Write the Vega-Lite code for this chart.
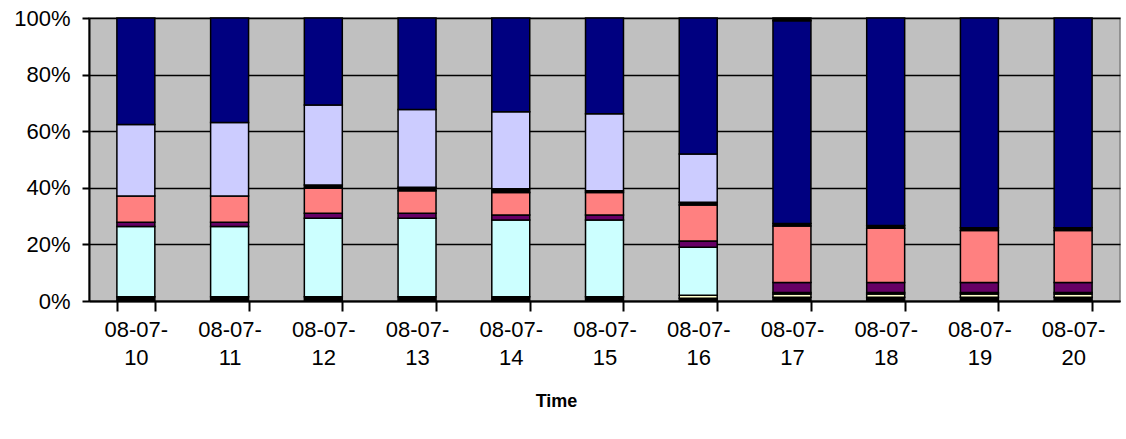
{
  "$schema": "https://vega.github.io/schema/vega-lite/v6.json",
  "width": 1031,
  "height": 283,
  "autosize": {"type": "none"},
  "padding": {"left": 89, "top": 18, "right": 6, "bottom": 138},
  "background": "#ffffff",
  "config": {
    "font": "Liberation Sans",
    "view": {"fill": "#C0C0C0", "stroke": "#808080", "strokeWidth": 1.5}
  },
  "data": {
    "values": [
      {"day": "08-07-10", "series": "A", "k": 1, "share": 1.5},
      {"day": "08-07-10", "series": "C", "k": 3, "share": 24.8},
      {"day": "08-07-10", "series": "D", "k": 4, "share": 1.5},
      {"day": "08-07-10", "series": "E", "k": 5, "share": 9.3},
      {"day": "08-07-10", "series": "G", "k": 7, "share": 25.3},
      {"day": "08-07-10", "series": "H", "k": 8, "share": 37.6},

      {"day": "08-07-11", "series": "A", "k": 1, "share": 1.5},
      {"day": "08-07-11", "series": "C", "k": 3, "share": 24.8},
      {"day": "08-07-11", "series": "D", "k": 4, "share": 1.5},
      {"day": "08-07-11", "series": "E", "k": 5, "share": 9.3},
      {"day": "08-07-11", "series": "G", "k": 7, "share": 26.0},
      {"day": "08-07-11", "series": "H", "k": 8, "share": 36.9},

      {"day": "08-07-12", "series": "A", "k": 1, "share": 1.5},
      {"day": "08-07-12", "series": "C", "k": 3, "share": 27.7},
      {"day": "08-07-12", "series": "D", "k": 4, "share": 1.8},
      {"day": "08-07-12", "series": "E", "k": 5, "share": 8.8},
      {"day": "08-07-12", "series": "F", "k": 6, "share": 1.2},
      {"day": "08-07-12", "series": "G", "k": 7, "share": 28.3},
      {"day": "08-07-12", "series": "H", "k": 8, "share": 30.7},

      {"day": "08-07-13", "series": "A", "k": 1, "share": 1.5},
      {"day": "08-07-13", "series": "C", "k": 3, "share": 27.7},
      {"day": "08-07-13", "series": "D", "k": 4, "share": 1.8},
      {"day": "08-07-13", "series": "E", "k": 5, "share": 8.0},
      {"day": "08-07-13", "series": "F", "k": 6, "share": 1.2},
      {"day": "08-07-13", "series": "G", "k": 7, "share": 27.5},
      {"day": "08-07-13", "series": "H", "k": 8, "share": 32.3},

      {"day": "08-07-14", "series": "A", "k": 1, "share": 1.5},
      {"day": "08-07-14", "series": "C", "k": 3, "share": 27.1},
      {"day": "08-07-14", "series": "D", "k": 4, "share": 1.8},
      {"day": "08-07-14", "series": "E", "k": 5, "share": 7.9},
      {"day": "08-07-14", "series": "F", "k": 6, "share": 1.4},
      {"day": "08-07-14", "series": "G", "k": 7, "share": 27.2},
      {"day": "08-07-14", "series": "H", "k": 8, "share": 33.1},

      {"day": "08-07-15", "series": "A", "k": 1, "share": 1.5},
      {"day": "08-07-15", "series": "C", "k": 3, "share": 27.1},
      {"day": "08-07-15", "series": "D", "k": 4, "share": 1.8},
      {"day": "08-07-15", "series": "E", "k": 5, "share": 7.9},
      {"day": "08-07-15", "series": "F", "k": 6, "share": 0.7},
      {"day": "08-07-15", "series": "G", "k": 7, "share": 27.2},
      {"day": "08-07-15", "series": "H", "k": 8, "share": 33.8},

      {"day": "08-07-16", "series": "A", "k": 1, "share": 1.0},
      {"day": "08-07-16", "series": "B", "k": 2, "share": 1.0},
      {"day": "08-07-16", "series": "C", "k": 3, "share": 17.0},
      {"day": "08-07-16", "series": "D", "k": 4, "share": 2.2},
      {"day": "08-07-16", "series": "E", "k": 5, "share": 12.7},
      {"day": "08-07-16", "series": "F", "k": 6, "share": 1.0},
      {"day": "08-07-16", "series": "G", "k": 7, "share": 17.0},
      {"day": "08-07-16", "series": "H", "k": 8, "share": 48.1},

      {"day": "08-07-17", "series": "A", "k": 1, "share": 1.3},
      {"day": "08-07-17", "series": "B", "k": 2, "share": 1.2},
      {"day": "08-07-17", "series": "C", "k": 3, "share": 0.5},
      {"day": "08-07-17", "series": "D", "k": 4, "share": 3.5},
      {"day": "08-07-17", "series": "E", "k": 5, "share": 20.0},
      {"day": "08-07-17", "series": "F", "k": 6, "share": 0.9},
      {"day": "08-07-17", "series": "H", "k": 8, "share": 71.6},
      {"day": "08-07-17", "series": "I", "k": 9, "share": 1.0},

      {"day": "08-07-18", "series": "A", "k": 1, "share": 1.3},
      {"day": "08-07-18", "series": "B", "k": 2, "share": 1.2},
      {"day": "08-07-18", "series": "C", "k": 3, "share": 0.5},
      {"day": "08-07-18", "series": "D", "k": 4, "share": 3.5},
      {"day": "08-07-18", "series": "E", "k": 5, "share": 19.2},
      {"day": "08-07-18", "series": "F", "k": 6, "share": 1.0},
      {"day": "08-07-18", "series": "H", "k": 8, "share": 73.3},

      {"day": "08-07-19", "series": "A", "k": 1, "share": 1.3},
      {"day": "08-07-19", "series": "B", "k": 2, "share": 1.2},
      {"day": "08-07-19", "series": "C", "k": 3, "share": 0.5},
      {"day": "08-07-19", "series": "D", "k": 4, "share": 3.5},
      {"day": "08-07-19", "series": "E", "k": 5, "share": 18.4},
      {"day": "08-07-19", "series": "F", "k": 6, "share": 1.0},
      {"day": "08-07-19", "series": "H", "k": 8, "share": 74.1},

      {"day": "08-07-20", "series": "A", "k": 1, "share": 1.3},
      {"day": "08-07-20", "series": "B", "k": 2, "share": 1.2},
      {"day": "08-07-20", "series": "C", "k": 3, "share": 0.5},
      {"day": "08-07-20", "series": "D", "k": 4, "share": 3.5},
      {"day": "08-07-20", "series": "E", "k": 5, "share": 18.4},
      {"day": "08-07-20", "series": "F", "k": 6, "share": 1.0},
      {"day": "08-07-20", "series": "H", "k": 8, "share": 74.1}
    ]
  },
  "mark": {"type": "bar", "stroke": "#000000", "strokeWidth": 1.5},
  "encoding": {
    "x": {
      "field": "day",
      "type": "nominal",
      "scale": {"paddingInner": 0.595, "paddingOuter": 0.2975},
      "axis": {
        "title": "Time",
        "titleFont": "Liberation Sans",
        "titleFontSize": 18,
        "titleFontWeight": "bold",
        "titleColor": "#000000",
        "titleX": 467,
        "titleY": 100,
        "titleAlign": "center",
        "titleBaseline": "middle",
        "labelAngle": 0,
        "labelFont": "Liberation Sans",
        "labelFontSize": 22,
        "labelColor": "#000000",
        "labelLineHeight": 28,
        "labelPadding": 8,
        "labelBaseline": "top",
        "labelExpr": "[substring(datum.label, 0, 6), substring(datum.label, 6)]",
        "tickBand": "extent",
        "tickSize": 10,
        "tickColor": "#000000",
        "tickWidth": 2,
        "domainColor": "#000000",
        "domainWidth": 2,
        "grid": false
      }
    },
    "y": {
      "aggregate": "sum",
      "field": "share",
      "type": "quantitative",
      "stack": "normalize",
      "scale": {"domain": [0, 1], "nice": false},
      "axis": {
        "title": null,
        "values": [0, 0.2, 0.4, 0.6, 0.8, 1],
        "format": ".0%",
        "labelFont": "Liberation Sans",
        "labelFontSize": 22,
        "labelColor": "#000000",
        "labelPadding": 12,
        "tickSize": 7,
        "tickColor": "#000000",
        "tickWidth": 2,
        "domainColor": "#000000",
        "domainWidth": 2,
        "grid": true,
        "gridColor": "#000000",
        "gridWidth": 1.5,
        "gridOpacity": 1
      }
    },
    "color": {
      "field": "series",
      "type": "nominal",
      "legend": null,
      "scale": {
        "domain": ["A", "B", "C", "D", "E", "F", "G", "H", "I"],
        "range": ["#000000", "#FFFFCC", "#CCFFFF", "#660066", "#FF8080", "#000000", "#CCCCFF", "#000080", "#000000"]
      }
    },
    "order": {"field": "k", "type": "quantitative", "sort": "ascending"}
  }
}
